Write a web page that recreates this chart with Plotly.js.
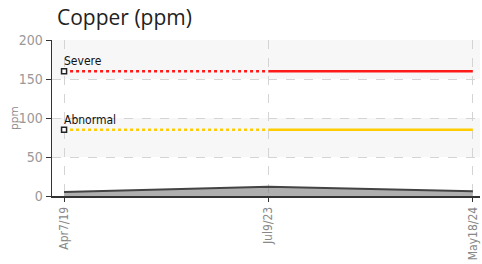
<!DOCTYPE html>
<html>
<head>
<meta charset="utf-8">
<script src="https://cdn.plot.ly/plotly-3.0.1.min.js"></script>
<style>html,body{margin:0;padding:0;background:#fff;}#chart{width:482px;height:264px;}</style>
</head>
<body>
<div id="chart"></div>
<script>
const categories = ["Apr7/19", "Jul9/23", "May18/24"];
const copperValues = [5, 12, 6];
const severeLevel = [160, 160, 160];
const abnormalLevel = [85, 85, 85];
const thresholdLabels = ["Severe", "Abnormal"];
const yTicks = [0, 50, 100, 150, 200];
const bandRanges = [[50, 100], [150, 200]];

const narrow = "DejaVu Sans Condensed, Liberation Sans Narrow, sans-serif";

const traces = [];
const annotations = [];
function threshold(vals, color, label) {
  traces.push({x: categories.slice(0, 2), y: vals.slice(0, 2), mode: 'lines', type: 'scatter',
    line: {color: color, width: 2.5, dash: 'dot'}, hoverinfo: 'skip', showlegend: false});
  traces.push({x: categories.slice(1), y: vals.slice(1), mode: 'lines', type: 'scatter',
    line: {color: color, width: 2.5}, hoverinfo: 'skip', showlegend: false});
  traces.push({x: [categories[0]], y: [vals[0]], mode: 'markers', type: 'scatter', cliponaxis: false,
    marker: {symbol: 'square', size: 5, color: '#fff', line: {width: 1.5, color: '#222'}}, showlegend: false});
  annotations.push({x: categories[0], y: vals[0], xref: 'x', yref: 'y', text: label, showarrow: false,
    xanchor: 'left', yanchor: 'bottom', xshift: -2, yshift: 1,
    font: {family: narrow, size: 12, color: '#111'}});
}
threshold(severeLevel, '#ff1a1a', thresholdLabels[0]);
threshold(abnormalLevel, '#ffcc00', thresholdLabels[1]);
traces.unshift({x: categories, y: copperValues, mode: 'lines', type: 'scatter', fill: 'tozeroy',
  fillcolor: 'rgba(110,110,110,0.55)', line: {color: '#444', width: 2}, showlegend: false});

annotations.push({xref: 'paper', yref: 'paper', x: -39/428, y: 0.5, text: 'ppm', textangle: -90,
  showarrow: false, xanchor: 'center', yanchor: 'middle',
  font: {family: 'Open Sans, sans-serif', size: 11, color: '#888'}});

const shapes = bandRanges.map(r => ({type: 'rect', xref: 'paper', yref: 'y', x0: 0, x1: 1, y0: r[0], y1: r[1],
  fillcolor: '#f7f7f7', line: {width: 0}, layer: 'below'}));

const layout = {
  width: 482, height: 264,
  margin: {l: 52, r: 2, t: 40, b: 68},
  paper_bgcolor: '#fff', plot_bgcolor: '#fff',
  showlegend: false,
  title: {text: 'Copper (ppm)', x: 57/482, xanchor: 'left', y: 1 - 18/264, yanchor: 'middle',
    font: {family: 'Open Sans, sans-serif', size: 21, color: '#222'}},
  xaxis: {type: 'category', range: [-0.059, 2.035], tickangle: -90,
    showgrid: true, gridcolor: '#d4d4d4', griddash: 'dash', gridwidth: 1,
    showline: true, linecolor: '#333', linewidth: 2, ticks: 'outside', ticklen: 4, tickcolor: '#333',
    tickfont: {family: narrow, size: 12, color: '#888'}, zeroline: false, fixedrange: true},
  yaxis: {range: [0, 200], tickvals: yTicks, showgrid: true, gridcolor: '#d4d4d4', griddash: 'dash',
    showline: true, linecolor: '#333', linewidth: 1.5, ticks: 'outside', ticklen: 5, tickcolor: '#333',
    tickfont: {family: narrow, size: 14, color: '#999'}, zeroline: false},
  shapes: shapes,
  annotations: annotations
};
Plotly.newPlot('chart', traces, layout, {staticPlot: true, displayModeBar: false});
</script>
</body>
</html>
